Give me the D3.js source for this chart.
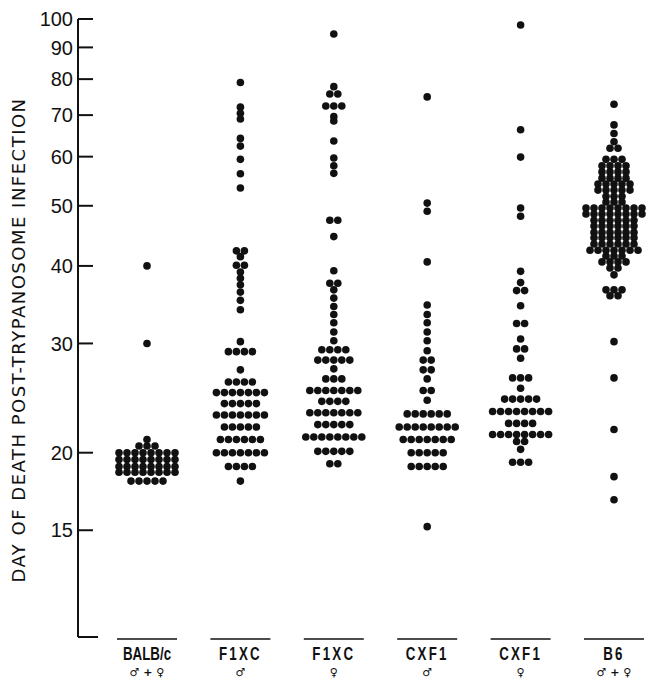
<!DOCTYPE html>
<html>
<head>
<meta charset="utf-8">
<script src="https://d3js.org/d3.v7.min.js"></script>
<style>
  body { margin: 0; background: #fff; }
  svg text { fill: #111; }
  .tick-label { font-family: "Liberation Sans", Arial, sans-serif; font-size: 20px; }
  .y-title { font-family: "DejaVu Sans", sans-serif; font-size: 18px; letter-spacing: 1.5px; }
  .group-label { font-family: "Liberation Sans", Arial, sans-serif; font-weight: bold; font-size: 18px; }
  .sex-label { font-family: "DejaVu Sans", sans-serif; font-size: 11px; font-weight: bold; }
</style>
</head>
<body>
<div id="chart"></div>
<script>
// groups along the x axis
var groupIds = ["balbc", "f1xc_m", "f1xc_f", "cxf1_m", "cxf1_f", "b6"];
var groupNames = ["BALB/c", "F1XC", "F1XC", "CXF1", "CXF1", "B6"];
var groupSexes = ["\u2642 + \u2640", "\u2642", "\u2640", "\u2642", "\u2640", "\u2642 + \u2640"];

var yTicks = [15, 20, 30, 40, 50, 60, 70, 80, 90, 100];

// day of death, [day, number of mice]
var balbc = [[40,1],[30,1],[21,1],[20.5,3],[20,8],[19.5,8],[19,8],[18.6,8],[18,5]];

var f1xcMale = [[79,1],[72.1,1],[70.5,1],[69,1],[64.2,1],[62.4,1],[59.4,1],[56.3,1],[53.4,1],
  [42.3,2],[41.4,1],[40.1,2],[39.1,1],[38.2,1],[37.3,1],[36.3,1],[35.2,1],[34,1],
  [30.2,1],[29.1,4],[27.2,1],[26,4],[25,7],[24,5],[23,7],[22,5],[21,6],[20,7],[19,4],[18,1]];

var f1xcFemale = [[94.6,1],[77.8,1],[75.7,2],[72.4,3],[69.6,1],[68.5,1],[63.6,1],[59.7,1],[58,1],[56.4,1],
  [47.4,2],[44.6,1],[39.3,1],[37.5,2],[36.6,1],[35.5,1],[34.4,1],[33.4,1],[32.4,1],[31.3,1],[30.3,1],
  [29.3,4],[28.2,5],[27.3,1],[26.3,3],[25.2,7],[24.2,4],[23.2,7],[22.2,5],[21.2,8],[20.1,5],[19.2,2]];

var cxf1Male = [[74.9,1],[50.5,1],[49,1],[40.6,1],[34.6,1],[33.4,1],[32.4,1],[31.3,1],[30.3,1],[29.2,1],
  [28.2,2],[27.2,2],[26.3,1],[25.2,2],[24.3,1],[23.1,6],[22,8],[21,7],[20,5],[19,5],[15.2,1]];

var cxf1Female = [[97.8,1],[66.3,1],[59.9,1],[49.6,1],[48.1,1],[39.2,1],[37.6,1],[36.5,2],[34.5,1],
  [32.3,2],[30.5,1],[29.4,2],[28.4,1],[26.4,3],[25.4,1],[24.4,5],[23.3,8],[22.3,4],[21.4,8],
  [20.85,2],[20.25,1],[19.3,3]];

var b6 = [[72.9,1],[67.5,1],[65.4,1],[63.4,1],[61.9,2],[59.4,3],[58,4],[56.7,4],[55.4,4],[54.2,5],
  [53,5],[51.8,3],[50.7,3],[49.6,8],[48.5,8],[47.4,6],[46.4,6],[45.3,6],[44.4,6],[43.4,6],[42.4,7],
  [41.5,3],[40.6,4],[39.7,2],[38.7,1],[36.6,3],[35.8,2],[30.2,1],[26.4,1],[21.8,1],[18.3,1],[16.8,1]];

var groupData = [balbc, f1xcMale, f1xcFemale, cxf1Male, cxf1Female, b6];

var width = 646, height = 679;
var axisX = 78, axisBottom = 637;
var dotR = 3.8, dotStep = 8;

var svg = d3.select("#chart").append("svg")
    .attr("width", width)
    .attr("height", height);

var y = d3.scaleLog()
    .domain([10, 100])
    .range([639.5, 19]);

var x = d3.scalePoint()
    .domain(groupIds)
    .range([147, 614]);

// y axis, ticks point into the plot, labels on the left
svg.append("line")
    .attr("x1", axisX).attr("x2", axisX)
    .attr("y1", y(100)).attr("y2", axisBottom)
    .attr("stroke", "#111").attr("stroke-width", 2);

svg.append("line")
    .attr("x1", axisX).attr("x2", axisX + 20)
    .attr("y1", axisBottom).attr("y2", axisBottom)
    .attr("stroke", "#111").attr("stroke-width", 2);

var ticks = svg.selectAll(".ytick")
    .data(yTicks)
  .enter().append("g")
    .attr("class", "ytick")
    .attr("transform", function(d) { return "translate(0," + y(d) + ")"; });

ticks.append("line")
    .attr("x1", axisX).attr("x2", axisX + 15)
    .attr("stroke", "#111").attr("stroke-width", 2);

ticks.append("text")
    .attr("class", "tick-label")
    .attr("x", axisX - 5)
    .attr("dy", "0.36em")
    .attr("text-anchor", "end")
    .text(function(d) { return d; });

svg.append("text")
    .attr("class", "y-title")
    .attr("text-anchor", "middle")
    .attr("transform", "translate(25,340) rotate(-90)")
    .text("DAY OF DEATH POST-TRYPANOSOME INFECTION");

// group labels with overline
var labels = svg.selectAll(".glabel")
    .data(groupIds)
  .enter().append("g")
    .attr("class", "glabel")
    .attr("transform", function(d) { return "translate(" + x(d) + ",0)"; });

labels.append("line")
    .attr("x1", -30).attr("x2", 30)
    .attr("y1", 639).attr("y2", 639)
    .attr("stroke", "#111").attr("stroke-width", 1.6);

labels.append("text")
    .attr("class", "group-label")
    .attr("transform", "translate(0,660) scale(0.74,1)")
    .attr("text-anchor", "middle")
    .style("letter-spacing", function(d, i) { return groupNames[i].length > 4 ? "0px" : "3px"; })
    .text(function(d, i) { return groupNames[i]; });

labels.append("text")
    .attr("class", "sex-label")
    .attr("y", 676)
    .attr("text-anchor", "middle")
    .text(function(d, i) { return groupSexes[i]; });

// dots: each row of equal days spread sideways around the group centre
groupIds.forEach(function(id, gi) {
  var pts = [];
  groupData[gi].forEach(function(row) {
    for (var k = 0; k < row[1]; k++) {
      pts.push({day: row[0], off: (k - (row[1] - 1) / 2) * dotStep});
    }
  });
  svg.append("g")
      .attr("id", id)
    .selectAll("circle")
      .data(pts)
    .enter().append("circle")
      .attr("cx", function(d) { return x(id) + d.off; })
      .attr("cy", function(d) { return y(d.day); })
      .attr("r", dotR)
      .attr("fill", "#111");
});
</script>
</body>
</html>
